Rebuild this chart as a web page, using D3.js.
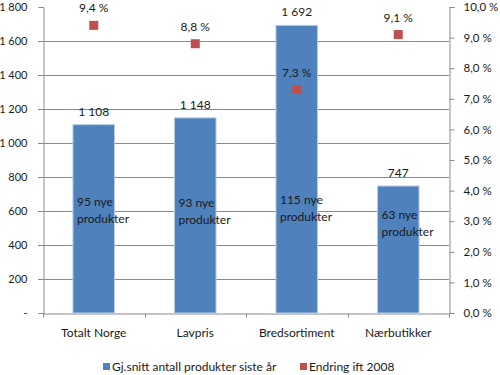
<!DOCTYPE html>
<html>
<head>
<meta charset="utf-8">
<script src="https://cdn.jsdelivr.net/npm/d3@7"></script>
<style>
  body { margin: 0; background: #fff; }
  text { font-family: Lato, "Open Sans", sans-serif; fill: #1a1a1a; }
</style>
</head>
<body>
<svg id="chart" width="500" height="375"></svg>
<script>
var categories = ["Totalt Norge", "Lavpris", "Bredsortiment", "Nærbutikker"];
var products = [1108, 1148, 1692, 747];
var change = [9.4, 8.8, 7.3, 9.1];
var newProducts = [95, 93, 115, 63];
var leftTicks = [0, 200, 400, 600, 800, 1000, 1200, 1400, 1600, 1800];
var rightTicks = [0, 1, 2, 3, 4, 5, 6, 7, 8, 9, 10];
var seriesNames = ["Gj.snitt antall produkter siste år", "Endring ift 2008"];

var blue = "#4f81bd", red = "#c0504d", grid = "#8a8a8a";
var fs = "12px";

var data = categories.map(function(c, i) {
    return { name: c, value: products[i], pct: change[i], nye: newProducts[i] };
});

// inner label: distance of first line below the 800-level, per bar (px)
var innerOffset = [29, 30, 27, 42];

var svg = d3.select("#chart");
var plotLeft = 43, plotRight = 449, plotTop = 7, plotBottom = 313;

var x = d3.scaleBand().domain(categories).range([plotLeft, plotRight]);
var y = d3.scaleLinear().domain([0, 1800]).range([plotBottom, plotTop]);
var y2 = d3.scaleLinear().domain([0, 10]).range([plotBottom, plotTop]);
var barW = x.bandwidth() * 0.41;

// gridlines
svg.append("g")
    .selectAll("line")
    .data(leftTicks.filter(function(d){ return d > 0 && d < 1800; }))
    .enter()
    .append("line")
    .attr("x1", plotLeft - 5).attr("x2", plotRight)
    .attr("y1", function(d){ return Math.round(y(d)) + 0.5; })
    .attr("y2", function(d){ return Math.round(y(d)) + 0.5; })
    .attr("stroke", grid);

// left axis
var yAxis = d3.axisLeft(y)
    .tickValues(leftTicks)
    .tickSize(5)
    .tickPadding(11)
    .tickFormat(function(d){ return d === 0 ? "-" : d3.format(",")(d).replace(",", " "); });
var gl = svg.append("g").attr("transform", "translate(" + (plotLeft + 0.5) + ",0)").call(yAxis);

// right axis
var y2Axis = d3.axisRight(y2)
    .tickValues(rightTicks)
    .tickSize(5)
    .tickPadding(9)
    .tickFormat(function(d){ return d3.format(".1f")(d).replace(".", ",") + " %"; });
var gr = svg.append("g").attr("transform", "translate(" + (plotRight + 0.5) + ",0)").call(y2Axis);

// bottom axis
var xAxis = d3.axisBottom(x).tickSize(0).tickPadding(15);
var gb = svg.append("g").attr("transform", "translate(0," + (plotBottom + 0.5) + ")").call(xAxis);
gb.selectAll("line.sep")
    .data(d3.range(categories.length + 1))
    .enter()
    .append("line")
    .attr("class", "sep")
    .attr("x1", function(i){ return Math.round(plotLeft + i * x.step()) + 0.5; })
    .attr("x2", function(i){ return Math.round(plotLeft + i * x.step()) + 0.5; })
    .attr("y1", 0).attr("y2", 4)
    .attr("stroke", grid);

[gl, gr, gb].forEach(function(g){
    g.attr("font-family", null).attr("font-size", null);
    g.select(".domain").attr("stroke", grid);
    g.selectAll(".tick line").attr("stroke", grid);
    g.selectAll(".tick text").style("font-size", fs).attr("fill", "#1a1a1a");
});
gl.selectAll(".tick text").style("font-size", "11px");
gr.selectAll(".tick text").style("font-size", "11.5px");

// bars
svg.append("g")
    .selectAll("rect")
    .data(data)
    .enter()
    .append("rect")
    .attr("x", function(d){ return x(d.name) + (x.bandwidth() - barW) / 2; })
    .attr("width", barW)
    .attr("y", function(d){ return y(d.value); })
    .attr("height", function(d){ return y(0) - y(d.value); })
    .attr("fill", blue)
    .attr("stroke", "#b9cde5")
    .attr("stroke-width", 1);

// bar value labels
svg.append("g")
    .selectAll("text")
    .data(data)
    .enter()
    .append("text")
    .attr("x", function(d){ return x(d.name) + x.bandwidth() / 2; })
    .attr("y", function(d){ return y(d.value) - 9; })
    .attr("text-anchor", "middle")
    .style("font-size", fs)
    .text(function(d){ return d3.format(",")(d.value).replace(",", " "); });

// inner labels
var inner = svg.append("g")
    .selectAll("text")
    .data(data)
    .enter()
    .append("text")
    .attr("x", function(d){ return x(d.name) + (x.bandwidth() - barW) / 2 + 4; })
    .attr("y", function(d, i){ return y(800) + innerOffset[i]; })
    .style("font-size", fs);
inner.append("tspan").text(function(d){ return d.nye + " nye"; });
inner.append("tspan")
    .attr("x", function(d){ return x(d.name) + (x.bandwidth() - barW) / 2 + 4; })
    .attr("dy", 17)
    .text("produkter");

// markers
var ms = 9;
svg.append("g")
    .selectAll("rect")
    .data(data)
    .enter()
    .append("rect")
    .attr("x", function(d){ return x(d.name) + x.bandwidth() / 2 - ms / 2; })
    .attr("y", function(d){ return y2(d.pct) - ms / 2; })
    .attr("width", ms).attr("height", ms)
    .attr("fill", red);

svg.append("g")
    .selectAll("text")
    .data(data)
    .enter()
    .append("text")
    .attr("x", function(d){ return x(d.name) + x.bandwidth() / 2; })
    .attr("y", function(d){ return y2(d.pct) - 13; })
    .attr("text-anchor", "middle")
    .style("font-size", fs)
    .text(function(d){ return d3.format(".1f")(d.pct).replace(".", ",") + " %"; });

// legend
var legendX = [103, 300];
var lg = svg.append("g")
    .selectAll("g")
    .data(seriesNames)
    .enter()
    .append("g")
    .attr("transform", function(d, i){ return "translate(" + legendX[i] + ",363)"; });
lg.append("rect")
    .attr("width", 7).attr("height", 7)
    .attr("fill", function(d, i){ return i === 0 ? blue : red; });
lg.append("text")
    .attr("x", 9).attr("y", 4).attr("dy", "0.35em")
    .style("font-size", fs)
    .text(function(d){ return d; });
</script>
</body>
</html>
